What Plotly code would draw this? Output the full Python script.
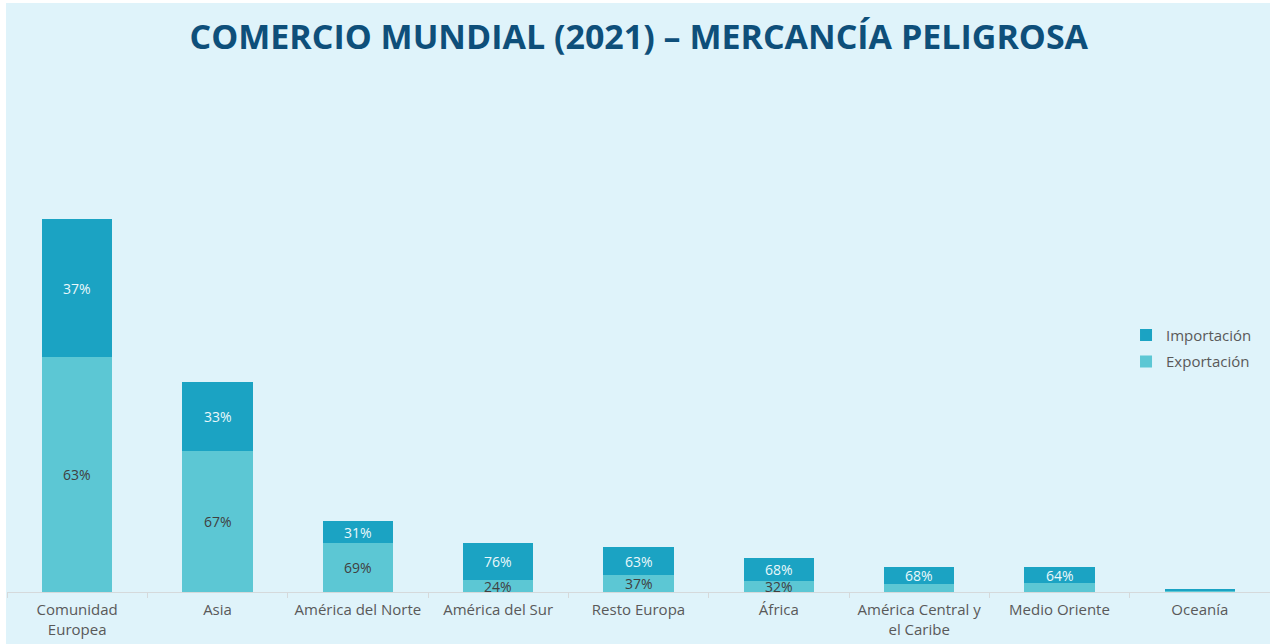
import plotly.graph_objects as go

# Regions and trade totals (bar height) with the export / import split in percent
regions = ["Comunidad<br>Europea", "Asia", "América del Norte", "América del Sur",
           "Resto Europa", "África", "América Central y<br>el Caribe",
           "Medio Oriente", "Oceanía"]
totals = [37.3, 21.0, 7.1, 4.9, 4.5, 3.4, 2.5, 2.5, 0.27]
export_pct = [63, 67, 69, 24, 37, 32, 32, 36, 25]
import_pct = [37, 33, 31, 76, 63, 68, 68, 64, 75]
show_export_label = [True, True, True, True, True, True, False, False, False]
show_import_label = [True, True, True, True, True, True, True, True, False]

C_IMP = "#1BA3C3"
C_EXP = "#5CC7D4"
BG = "#DFF3FA"
TXT = "#595959"
FONT = "Open Sans"

export_vals = [t * p / 100 for t, p in zip(totals, export_pct)]
import_vals = [t * p / 100 for t, p in zip(totals, import_pct)]

fig = go.Figure()
fig.add_trace(go.Bar(x=regions, y=export_vals, name="Exportación",
                     legendgroup="exp", legendrank=2,
                     marker=dict(color=C_EXP, line=dict(width=0)),
                     hoverinfo="skip"))
fig.add_trace(go.Bar(x=regions, y=import_vals, name="Importación",
                     legendgroup="imp", legendrank=1,
                     marker=dict(color=C_IMP, line=dict(width=0)),
                     hoverinfo="skip"))

annotations = []
for r, e, i, ep, ip, se, si in zip(regions, export_vals, import_vals,
                                   export_pct, import_pct,
                                   show_export_label, show_import_label):
    if se:
        annotations.append(dict(x=r, y=e / 2, text=f"{ep}%", showarrow=False,
                                xref="x", yref="y", yanchor="middle",
                                font=dict(family=FONT, size=14, color="#404040")))
    if si:
        annotations.append(dict(x=r, y=e + i / 2, text=f"{ip}%", showarrow=False,
                                xref="x", yref="y", yanchor="middle",
                                font=dict(family=FONT, size=14, color="#EAF8FB")))

W, H = 1270, 644
ml, mr, mt, mb = 7, 0, 70, 52
pw, ph = W - ml - mr, H - mt - mb

# light-blue panel behind the whole chart, leaving a thin white edge top/left
panel = dict(type="rect", xref="paper", yref="paper", layer="below",
             x0=(6 - ml) / pw, x1=1.0, y0=-mb / ph, y1=(mt - 3) / ph + 1.0,
             fillcolor=BG, line=dict(width=0))

fig.update_layout(
    width=W, height=H,
    margin=dict(l=ml, r=mr, t=mt, b=mb, pad=0),
    barmode="stack", bargap=0.5,
    paper_bgcolor="white", plot_bgcolor="rgba(0,0,0,0)",
    shapes=[panel],
    annotations=annotations,
    title=dict(text="<b>COMERCIO MUNDIAL (2021) – MERCANCÍA PELIGROSA</b>",
               x=0.503, xanchor="center", y=1 - 37 / H, yanchor="middle",
               font=dict(family=FONT, size=34, color="#0E4F7A")),
    legend=dict(x=0.886, y=0.467, xanchor="left", yanchor="middle",
                traceorder="grouped", tracegroupgap=4,
                bgcolor="rgba(0,0,0,0)",
                font=dict(family=FONT, size=15, color=TXT),
                itemwidth=30),
    xaxis=dict(showline=True, linecolor="#D5D9DB", linewidth=1,
               ticks="outside", tickson="boundaries", ticklen=5,
               tickcolor="#D5D9DB", showgrid=False, ticklabelstandoff=4,
               tickfont=dict(family=FONT, size=15, color=TXT)),
    yaxis=dict(range=[0, ph / 10], visible=False, showgrid=False, zeroline=False),
    font=dict(family=FONT),
)

fig.write_html("out.html")
